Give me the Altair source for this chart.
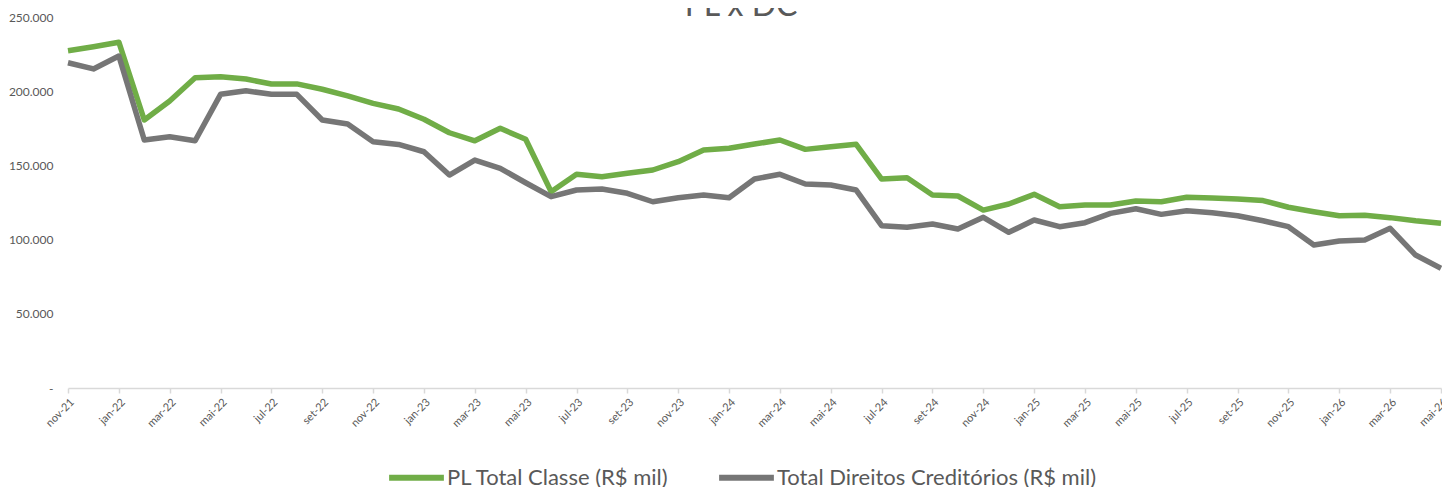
import altair as alt
import pandas as pd

title_text = "PL x DC"
series_names = ["PL Total Classe (R$ mil)", "Total Direitos Creditórios (R$ mil)"]
series_colors = ["#70AD47", "#767676"]

months = [
    "nov-21", "dez-21", "jan-22", "fev-22", "mar-22", "abr-22", "mai-22", "jun-22", "jul-22", "ago-22",
    "set-22", "out-22", "nov-22", "dez-22", "jan-23", "fev-23", "mar-23", "abr-23", "mai-23", "jun-23",
    "jul-23", "ago-23", "set-23", "out-23", "nov-23", "dez-23", "jan-24", "fev-24", "mar-24", "abr-24",
    "mai-24", "jun-24", "jul-24", "ago-24", "set-24", "out-24", "nov-24", "dez-24", "jan-25", "fev-25",
    "mar-25", "abr-25", "mai-25", "jun-25", "jul-25", "ago-25", "set-25", "out-25", "nov-25", "dez-25",
    "jan-26", "fev-26", "mar-26", "abr-26", "mai-26",
]

pl_total = [
    227300, 230000, 233000, 180600, 193400, 209100, 209800, 208200, 204900, 204900,
    201300, 196800, 191800, 188000, 181100, 172000, 166600, 175000, 167600, 132300,
    144000, 142400, 144700, 146900, 152500, 160400, 161500, 164400, 167100, 160800,
    162600, 164200, 140800, 141700, 130100, 129400, 119900, 124000, 130500, 122200,
    123300, 123300, 126000, 125500, 128500, 128000, 127400, 126300, 121800, 118800,
    116100, 116400, 114800, 112700, 111000,
]

direitos = [
    219200, 215000, 223700, 167100, 169300, 166600, 197900, 200300, 197900, 197900,
    180600, 177900, 166000, 164100, 159200, 143500, 153600, 148000, 138300, 128900,
    133400, 134100, 131200, 125500, 128200, 130100, 128200, 140800, 144000, 137500,
    136800, 133400, 109400, 108300, 110500, 107100, 115000, 104900, 113200, 108700,
    111400, 117700, 120800, 117000, 119500, 118100, 116100, 112700, 108700, 96400,
    99100, 99700, 107600, 89600, 80700,
]

y_ticks = [0, 50000, 100000, 150000, 200000, 250000]

rows = []
for m, v in zip(months, pl_total):
    rows.append({"mes": m, "serie": series_names[0], "valor": v})
for m, v in zip(months, direitos):
    rows.append({"mes": m, "serie": series_names[1], "valor": v})
df = pd.DataFrame(rows)

FONT = "Lato"
TXT = "#595959"

lines = alt.Chart(df).mark_line(strokeWidth=5.5, strokeJoin="round").encode(
    x=alt.X(
        "mes:O",
        sort=months,
        scale=alt.Scale(type="point", padding=0),
        axis=alt.Axis(
            title=None,
            values=months[::2],
            labelAngle=-45,
            labelAlign="right",
            labelBaseline="top",
            labelFontSize=11,
            labelColor=TXT,
            labelFont=FONT,
            labelPadding=3,
            domainColor="#D9D9D9",
            domainWidth=1.5,
            tickColor="#D9D9D9",
            tickWidth=1.5,
            tickSize=5,
            grid=False,
        ),
    ),
    y=alt.Y(
        "valor:Q",
        scale=alt.Scale(domain=[0, 250000], nice=False),
        axis=alt.Axis(
            title=None,
            values=y_ticks,
            labelExpr="datum.value == 0 ? '-' : replace(format(datum.value, ','), ',', '.')",
            labelFontSize=12,
            labelColor=TXT,
            labelFont=FONT,
            labelPadding=15,
            ticks=False,
            domain=False,
            grid=False,
        ),
    ),
    color=alt.Color(
        "serie:N",
        sort=series_names,
        scale=alt.Scale(domain=series_names, range=series_colors),
        legend=alt.Legend(
            title=None,
            orient="none",
            legendX=318,
            legendY=430,
            direction="horizontal",
            symbolType="stroke",
            symbolSize=3000,
            symbolStrokeWidth=6,
            labelFontSize=22,
            labelFont=FONT,
            labelColor=TXT,
            labelLimit=500,
            labelOffset=0,
            columnPadding=38,
        ),
    ),
)

title_df = pd.DataFrame({"t": [title_text]})
title = alt.Chart(title_df).mark_text(
    fontSize=32, font=FONT, color=TXT, baseline="alphabetic", align="center"
).encode(text="t:N", x=alt.value(673), y=alt.value(-1))

chart = alt.layer(lines, title).properties(
    width=1373,
    height=371,
    autosize=alt.AutoSizeParams(type="none"),
    padding={"left": 60, "top": 9, "right": 1, "bottom": 99},
).configure_view(stroke=None)

chart.save("out.html", embed_options={"renderer": "svg", "actions": False})
